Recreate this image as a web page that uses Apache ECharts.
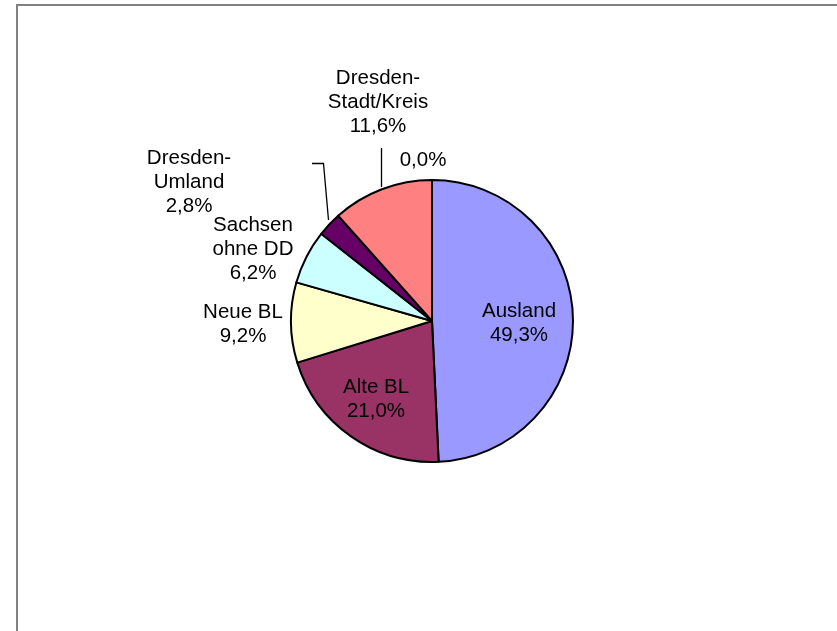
<!DOCTYPE html>
<html>
<head>
<meta charset="utf-8">
<script src="https://cdn.jsdelivr.net/npm/echarts@6/dist/echarts.min.js"></script>
<style>html,body{margin:0;padding:0;background:#fff}#c{width:837px;height:631px}</style>
</head>
<body>
<div id="c"></div>
<script>
const categories = ['Ausland', 'Alte BL', 'Neue BL', 'Sachsen\nohne DD', 'Dresden-\nUmland', 'Dresden-\nStadt/Kreis', ''];
const values = [49.3, 21.0, 9.2, 6.2, 2.8, 11.6, 0.0];
const colors = ['#9999FF', '#993366', '#FFFFCC', '#CCFFFF', '#660066', '#FF8080', '#FFFFFF'];

// label placement (styling): centre of each label and optional leader line
const labelPos = [
  {x: 519, y: 323},
  {x: 376, y: 399},
  {x: 243, y: 324},
  {x: 253, y: 249},
  {x: 189, y: 182},
  {x: 378, y: 102},
  {x: 423, y: 160}
];
const leaders = {
  4: [[312, 163.5], [323.5, 163.5], [328.5, 220]],
  5: [[381.5, 148], [381.5, 168], [381.5, 187]]
};

const fmt = v => v.toFixed(1).replace('.', ',') + '%';
const chart = echarts.init(document.getElementById('c'), null, {renderer: 'canvas'});
const data = categories.map((n, i) => ({
  name: n, value: values[i],
  itemStyle: {color: colors[i]},
  label: {position: i < 2 ? 'inside' : 'outside'},
  labelLine: {show: !!leaders[i]}
}));
chart.setOption({
  animation: false,
  backgroundColor: '#fff',
  graphic: [{
    type: 'rect', shape: {x: 17, y: 5, width: 900, height: 700},
    style: {fill: 'none', stroke: '#808080', lineWidth: 2}, silent: true
  }],
  series: [{
    type: 'pie',
    center: [432, 321],
    radius: [0, 141],
    startAngle: 90,
    clockwise: true,
    minShowLabelAngle: 0,
    avoidLabelOverlap: false,
    stillShowZeroSum: true,
    itemStyle: {borderColor: '#000', borderWidth: 2},
    emphasis: {disabled: true},
    label: {
      show: true,
      color: '#000',
      fontFamily: 'Liberation Sans, Arial, sans-serif',
      fontSize: 20.5,
      lineHeight: 24,
      align: 'center',
      formatter: p => (p.name ? p.name + '\n' : '') + fmt(p.value)
    },
    labelLine: {lineStyle: {color: '#000', width: 1.3}, length: 10, length2: 10},
    labelLayout: function (params) {
      const i = params.dataIndex;
      const r = {x: labelPos[i].x, y: labelPos[i].y, align: 'center', verticalAlign: 'middle'};
      if (leaders[i]) r.labelLinePoints = leaders[i];
      return r;
    },
    data: data
  }]
});
</script>
</body>
</html>
